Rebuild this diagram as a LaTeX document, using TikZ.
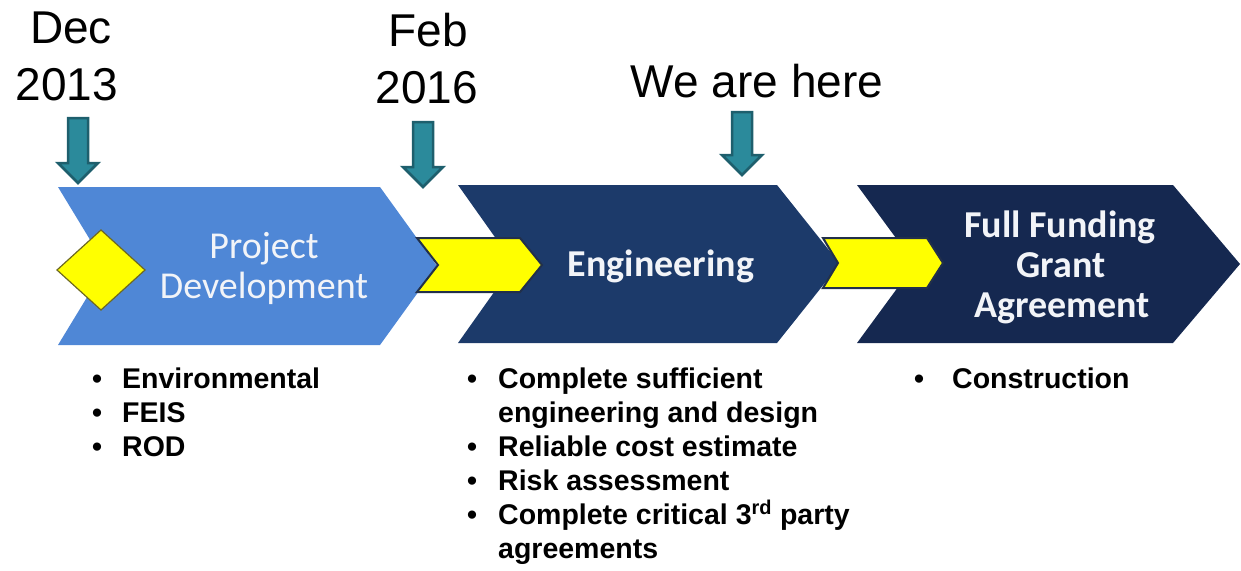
\documentclass[tikz,border=0pt]{standalone}
\usepackage{fontspec}
\setmainfont{Liberation Sans}
\newfontfamily\carlito{Carlito}
\definecolor{pdblue}{HTML}{4F87D6}
\definecolor{engblue}{HTML}{1C3A6A}
\definecolor{ffblue}{HTML}{152850}
\definecolor{yel}{HTML}{FFFF00}
\definecolor{yeledge}{HTML}{22304A}
\definecolor{arrfill}{HTML}{2B8A9B}
\definecolor{arredge}{HTML}{1E5F6D}
\definecolor{chevtext}{HTML}{F2F4F8}
\tikzset{
  date/.style={font=\fontsize{46}{57}\selectfont, inner sep=0pt, anchor=base},
  chevlabel/.style={font=\carlito\fontsize{38}{40}\selectfont, text=chevtext, inner sep=0pt, anchor=base},
  chevlabelbold/.style={font=\carlito\bfseries\fontsize{38}{40}\selectfont, text=chevtext, inner sep=0pt, anchor=base},
  item/.style={font=\bfseries\fontsize{28.5}{34}\selectfont, inner sep=0pt, anchor=base west},
  downarr/.style={fill=arrfill, draw=arredge, line width=2.5pt, line join=miter},
  yelarrow/.style={fill=yel, draw=yeledge, line width=2pt, line join=miter},
}
\newcommand\bul[1]{\llap{\textbullet\hspace{#1}}}
\begin{document}
\begin{tikzpicture}[x=1pt,y=-1pt]
\useasboundingbox (0,0) rectangle (1241,570);
% chevrons
\fill[pdblue] (58,187) -- (380,187) -- (437,266) -- (380,345) -- (58,345) -- (106,266) -- cycle;
\fill[engblue] (458,185) -- (777,185) -- (840,264) -- (777,343) -- (458,343) -- (514,264) -- cycle;
\fill[ffblue] (857,185) -- (1173,185) -- (1240,264) -- (1173,343) -- (857,343) -- (915,264) -- cycle;
% diamond and yellow arrows
\draw[fill=yel, draw=olive!70!black, line width=1.2pt] (57,270) -- (101,230) -- (145,270) -- (101,310) -- cycle;
\draw[yelarrow] (417,238) -- (520,238) -- (542,265) -- (520,292) -- (417,292) -- (438,265) -- cycle;
\draw[yelarrow] (823,238) -- (927,238) -- (943,263) -- (927,288) -- (823,288) -- (838,263) -- cycle;
% chevron labels
\node[chevlabel] (pd1) at (264,258) {Project};
\node[chevlabel] (pd2) at (264,298) {Development};
\node[chevlabelbold] (eng) at (661,276) {Engineering};
\node[chevlabelbold] (ff1) at (1060,237) {Full Funding};
\node[chevlabelbold] (ff2) at (1061,277) {Grant};
\node[chevlabelbold] (ff3) at (1062,317) {Agreement};
% dates
\node[date] (dec) at (71,43) {Dec};
\node[date] (y2013) at (67,100) {2013};
\node[date] (feb) at (428,46) {Feb};
\node[date] (y2016) at (427,103) {2016};
\node[date] (here) at (757,97) {We are here};
% down arrows
\draw[downarr] (68,118) -- (88,118) -- (88,163) -- (98,163) -- (78,183) -- (58,163) -- (68,163) -- cycle;
\draw[downarr] (413,122) -- (433,122) -- (433,167) -- (443,167) -- (423,187) -- (403,167) -- (413,167) -- cycle;
\draw[downarr] (732,112) -- (752,112) -- (752,155) -- (762,155) -- (742,175) -- (722,155) -- (732,155) -- cycle;
% bullet lists
\node[item] (b11) at (122,388) {\bul{20pt}Environmental};
\node[item] (b12) at (122,422) {\bul{20pt}FEIS};
\node[item] (b13) at (122,456) {\bul{20pt}ROD};
\node[item] (b21) at (498,388) {\bul{21pt}Complete sufficient};
\node[item] (b21b) at (498,422) {engineering and design};
\node[item] (b22) at (498,456) {\bul{21pt}Reliable cost estimate};
\node[item] (b23) at (498,490) {\bul{21pt}Risk assessment};
\node[item] (b24) at (498,524) {\bul{21pt}Complete critical 3\textsuperscript{rd} party};
\node[item] (b24b) at (498,558) {agreements};
\node[item] (b31) at (952,388) {\bul{28pt}Construction};
\end{tikzpicture}
\end{document}
